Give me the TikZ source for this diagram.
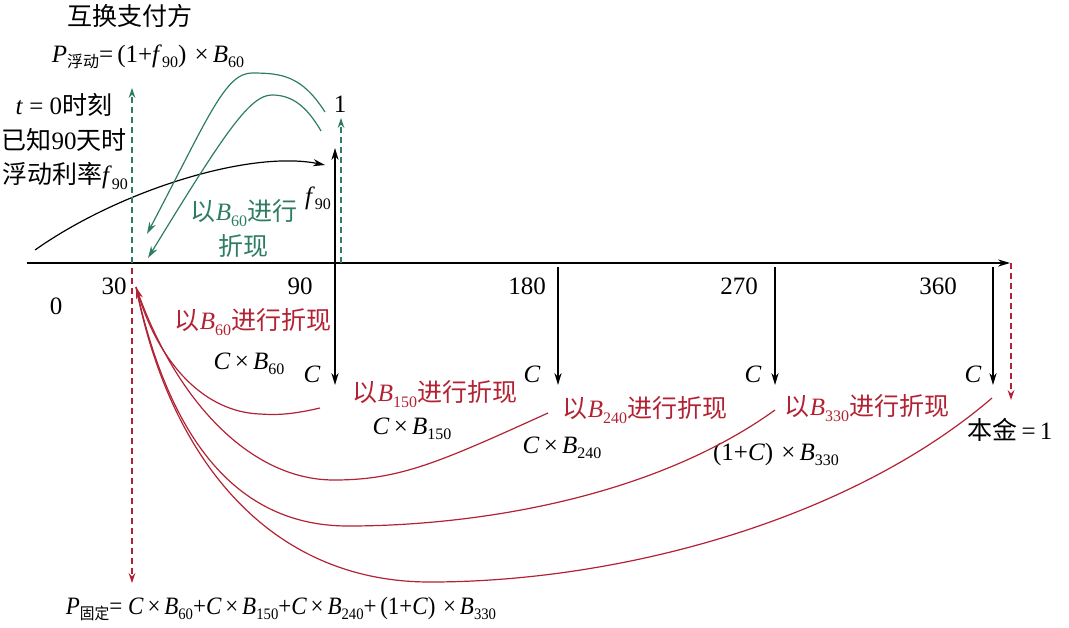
\documentclass[tikz,border=0pt]{standalone}
\usepackage{fontspec}
\usepackage{graphicx}
\setmainfont{Liberation Serif}
\newfontfamily\cjk{Noto Sans CJK SC}
\usetikzlibrary{arrows.meta}
\definecolor{sgreen}{RGB}{46,125,98}
\definecolor{sred}{RGB}{178,34,52}
\newcommand\zh[1]{{\cjk #1}}
\newcommand\lo[1]{\raisebox{-0.45ex}{\fontsize{8}{9}\selectfont #1}}
\newcommand\vB[1]{\textit{B}\lo{#1}}
\newcommand\vC{\textit{C}}
\newcommand\tms{\,×\,}
\newcommand\lp{\hspace{2pt}(}
\newcommand\rp{)\hspace{2pt}}
\begin{document}
\begin{tikzpicture}[x=0.5pt,y=-0.5pt,font=\fontsize{12.5}{15}\selectfont,
  lbl/.style={inner sep=0pt,anchor=center},
  redlbl/.style={lbl,text=sred},
  greenlbl/.style={lbl,text=sgreen},
  blk/.style={line width=0.6pt,-{Stealth[length=6pt,width=3.6pt]}},
  gdash/.style={line width=0.6pt,sgreen,dash pattern=on 3pt off 2pt,-{Stealth[length=5pt,width=3.4pt]}},
  rdash/.style={line width=0.6pt,sred,dash pattern=on 3pt off 2pt,-{Stealth[length=5pt,width=3.4pt]}},
  gcurve/.style={line width=0.6pt,sgreen,-{Stealth[length=6pt,width=3.6pt]}},
  rcurve/.style={line width=0.6pt,sred},
  rtip/.style={rcurve,-{Stealth[length=6pt,width=3.6pt]}}]
\useasboundingbox (0,0) rectangle (1069,627);

% coordinates
\coordinate (ax0) at (27,263);
\coordinate (ax1) at (1010,263);
\coordinate (t30) at (132,263);
\coordinate (t90) at (335,263);
\coordinate (t90g) at (341,263);
\coordinate (t180) at (558,267);
\coordinate (t270) at (775,267);
\coordinate (t360) at (993,267);
\coordinate (t360r) at (1011,263);
\coordinate (c90) at (335,385);
\coordinate (c180) at (558,385);
\coordinate (c270) at (775,385);
\coordinate (c360) at (993,385);
\coordinate (f90top) at (335,148);
\coordinate (oneTop) at (341,118);
\coordinate (pTop) at (132,88);
\coordinate (pBot) at (132,583);
\coordinate (r30top) at (132,268);
\coordinate (prinTip) at (1011,400);
\coordinate (rtipPt) at (136,287);
\coordinate (bstart) at (35,250);
\coordinate (bend) at (325,165);
\coordinate (g1s) at (325,112);
\coordinate (g1p) at (252,73);
\coordinate (g1e) at (147,234);
\coordinate (g2s) at (321,131);
\coordinate (g2p) at (272,95);
\coordinate (g2e) at (148,258);
\coordinate (rA) at (320,408);
\coordinate (rB) at (548,413);
\coordinate (rC) at (775,410);
\coordinate (rD) at (992,398);

% axis
\draw[blk] (ax0) -- (ax1);

% texts
\node[lbl] (title) at (130,16) {\zh{互换支付方}};
\node[lbl] (pfloat) at (148,57) {\textit{P}\lo{\zh{浮动}}=\lp1+\textit{f}\lo{90}\rp\tms\vB{60}};
\node[lbl] (tzero) at (64,105) {\textit{t} = 0\zh{时刻}};
\node[lbl] (known) at (64,140) {\zh{已知}90\zh{天时}};
\node[lbl] (rate) at (65,176) {\zh{浮动利率}\textit{f}\lo{90}};
\node[lbl] (f90) at (318,198) {\textit{f}\lo{90}};
\node[lbl] (one) at (340,104) {1};
\node[greenlbl] (gdisc1) at (244,213) {\zh{以}\vB{60}\zh{进行}};
\node[greenlbl] (gdisc2) at (243,246) {\zh{折现}};

\node[lbl] (n0) at (56,306) {0};
\node[lbl] (n30) at (114,286) {30};
\node[lbl] (n90) at (300,286) {90};
\node[lbl] (n180) at (527,286) {180};
\node[lbl] (n270) at (739,286) {270};
\node[lbl] (n360) at (938,286) {360};

\node[lbl] (C90) at (312,374) {\vC};
\node[lbl] (C180) at (532,374) {\vC};
\node[lbl] (C270) at (753,374) {\vC};
\node[lbl] (C360) at (973,374) {\vC};

\node[redlbl] (d60) at (253,322) {\zh{以}\vB{60}\zh{进行折现}};
\node[lbl] (cb60) at (249,364) {\vC\tms\vB{60}};
\node[redlbl] (d150) at (435,394) {\zh{以}\vB{150}\zh{进行折现}};
\node[lbl] (cb150) at (412,429) {\vC\tms\vB{150}};
\node[redlbl] (d240) at (645,410) {\zh{以}\vB{240}\zh{进行折现}};
\node[lbl] (cb240) at (562,448) {\vC\tms\vB{240}};
\node[redlbl] (d330) at (867,408) {\zh{以}\vB{330}\zh{进行折现}};
\node[lbl] (cb330) at (774,454) {\lp1+\vC\rp\tms\vB{330}};
\node[lbl] (prin) at (1010,430) {\zh{本金}\,=\,1};

\node[lbl] (pfixed) at (281,609) {\scalebox{0.92}[1]{\textit{P}\lo{\zh{固定}}= \vC\tms\vB{60}+\vC\tms\vB{150}+\vC\tms\vB{240}+\lp1+\vC\rp\tms\vB{330}}};

% black arrows
\draw[blk] (t90) -- (f90top);
\draw[blk] (t90) -- (c90);
\draw[blk] (t180) -- (c180);
\draw[blk] (t270) -- (c270);
\draw[blk] (t360) -- (c360);
\draw[blk] (bstart) .. controls (120,190) and (250,150) .. (bend);

% dashed
\draw[gdash] (t30) -- (pTop);
\draw[gdash] (t90g) -- (oneTop);
\draw[rdash] (r30top) -- (pBot);
\draw[rdash] (t360r) -- (prinTip);

% green curves
\draw[gcurve] (g1s) .. controls (302,76) and (282,73) .. (g1p)
  .. controls (225,73) and (208,118) .. (g1e);
\draw[gcurve] (g2s) .. controls (306,105) and (291,95) .. (g2p)
  .. controls (250,95) and (225,132) .. (g2e);

% red curves
\draw[rtip] (rA) .. controls (290,415) and (275,415) .. (260,414)
  .. controls (205,412) and (160,365) .. (rtipPt);
\draw[rcurve] (rB) .. controls (440,462) and (400,480) .. (334,480)
  .. controls (250,480) and (175,400) .. (rtipPt);
\draw[rcurve] (rC) .. controls (650,500) and (470,526) .. (348,526)
  .. controls (225,526) and (165,420) .. (rtipPt);
\draw[rcurve] (rD) .. controls (850,520) and (620,582) .. (430,582)
  .. controls (270,582) and (170,460) .. (rtipPt);
\end{tikzpicture}
\end{document}
